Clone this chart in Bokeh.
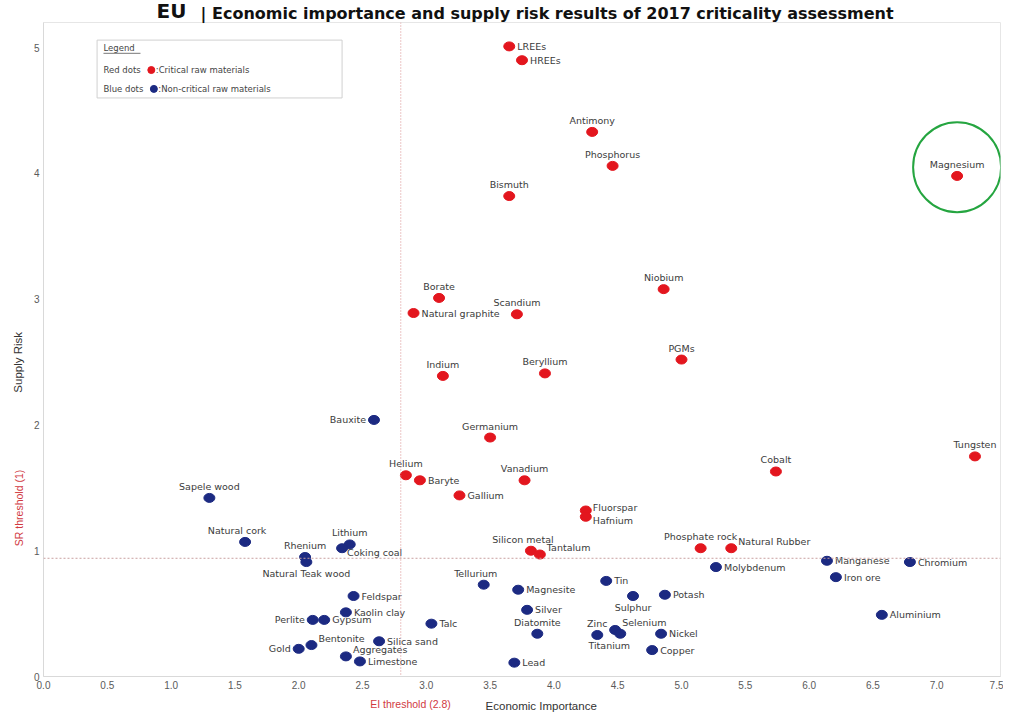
import math
from bokeh.plotting import figure
from bokeh.models import (Range1d, Span, Label, FixedTicker, CustomJSTickFormatter,
                          ColumnDataSource, LinearAxis)
from bokeh.core.properties import value
from bokeh.embed import file_html
from bokeh.resources import INLINE

# ---------------- data ----------------
red_names = ["LREEs", "HREEs", "Antimony", "Phosphorus", "Bismuth", "Magnesium", "Niobium",
             "Borate", "Natural graphite", "Scandium", "PGMs", "Indium", "Beryllium",
             "Germanium", "Helium", "Baryte", "Gallium", "Vanadium", "Fluorspar", "Hafnium",
             "Cobalt", "Tungsten", "Silicon metal", "Tantalum", "Phosphate rock", "Natural Rubber"]
red_ei = [3.65, 3.75, 4.30, 4.46, 3.65, 7.16, 4.86,
          3.10, 2.90, 3.71, 5.00, 3.13, 3.93,
          3.50, 2.84, 2.95, 3.26, 3.77, 4.25, 4.25,
          5.74, 7.30, 3.82, 3.89, 5.15, 5.39]
red_sr = [5.01, 4.90, 4.33, 4.06, 3.82, 3.98, 3.08,
          3.01, 2.89, 2.88, 2.52, 2.39, 2.41,
          1.90, 1.60, 1.56, 1.44, 1.56, 1.32, 1.27,
          1.63, 1.75, 1.00, 0.97, 1.02, 1.02]
red_pos = ["r", "r", "t", "t", "t", "t", "t",
           "t", "r", "t", "t", "t", "t",
           "t", "t", "r", "r", "t", "rup", "rdn",
           "t", "t", "tl", "ru", "t", "ru"]

blue_names = ["Bauxite", "Sapele wood", "Natural cork", "Rhenium", "Natural Teak wood", "Lithium",
              "Coking coal", "Tellurium", "Magnesite", "Tin", "Sulphur", "Potash", "Molybdenum",
              "Manganese", "Chromium", "Iron ore", "Aluminium", "Feldspar", "Kaolin clay",
              "Perlite", "Gypsum", "Talc", "Silver", "Diatomite", "Zinc", "Selenium", "Titanium",
              "Nickel", "Copper", "Lead", "Silica sand", "Bentonite", "Gold", "Aggregates", "Limestone"]
blue_ei = [2.59, 1.30, 1.58, 2.05, 2.06, 2.40,
           2.34, 3.45, 3.72, 4.41, 4.62, 4.87, 5.27,
           6.14, 6.79, 6.21, 6.57, 2.43, 2.37,
           2.11, 2.20, 3.04, 3.79, 3.87, 4.34, 4.48, 4.52,
           4.84, 4.77, 3.69, 2.63, 2.10, 2.00, 2.37, 2.48]
blue_sr = [2.04, 1.42, 1.07, 0.95, 0.91, 1.05,
           1.02, 0.73, 0.69, 0.76, 0.64, 0.65, 0.87,
           0.92, 0.91, 0.79, 0.49, 0.64, 0.51,
           0.45, 0.45, 0.42, 0.53, 0.34, 0.33, 0.37, 0.34,
           0.34, 0.21, 0.11, 0.28, 0.25, 0.22, 0.16, 0.12]
blue_pos = ["l", "t", "tl", "t", "b", "t",
            "rd", "tl", "r", "r", "b", "r", "r",
            "r", "r", "r", "r", "r", "r",
            "l", "r", "r", "r", "t", "t", "ru", "bl",
            "r", "r", "r", "r", "ru", "l", "ru", "r"]

x_ticks = [0.0, 0.5, 1.0, 1.5, 2.0, 2.5, 3.0, 3.5, 4.0, 4.5, 5.0, 5.5, 6.0, 6.5, 7.0, 7.5]
y_ticks = [0, 1, 2, 3, 4, 5]
EI_THRESHOLD = 2.8
SR_LINE = 0.94   # where the SR threshold (1) line is drawn in the picture
highlight = "Magnesium"

# ---------------- styles ----------------
RED = "#e3161e"
BLUE = "#1c2a82"
LABEL_COL = "#3b3b3b"
LFONT = value("DejaVu Sans")
NARROW = "'Liberation Sans Narrow', 'Liberation Sans', sans-serif"
NBSP = "\u00a0"

PLACE = {
    "r":   ("left", "middle", 8, 0),
    "ru":  ("left", "middle", 7, -7),
    "rup": ("left", "middle", 7, -3),
    "rdn": ("left", "middle", 7, 4),
    "rd":  ("left", "middle", 5, 4),
    "l":   ("right", "middle", -8, 0),
    "t":   ("center", "bottom", 0, -6),
    "tl":  ("center", "bottom", -8, -6),
    "b":   ("center", "top", 0, 6),
    "bl":  ("center", "top", -11, 6),
}

p = figure(width=1003, height=714, output_backend="svg", toolbar_location=None,
           x_range=Range1d(0, 7.5), y_range=Range1d(0, 5.2),
           min_border_left=43, min_border_right=3, min_border_top=22, min_border_bottom=37)
p.grid.visible = False
p.outline_line_color = "#e6e6e6"
p.background_fill_color = "white"
p.border_fill_color = "white"

def style_axis(ax, size="10px", color="#5a5a5a", standoff=4):
    ax.axis_line_color = None
    ax.major_tick_line_color = None
    ax.minor_tick_line_color = None
    ax.major_tick_out = 0
    ax.major_tick_in = 0
    ax.minor_tick_out = 0
    ax.major_label_text_font = NARROW
    ax.major_label_text_font_size = size
    ax.major_label_text_color = color
    ax.major_label_standoff = standoff

style_axis(p.xaxis[0])
style_axis(p.yaxis[0])
p.xaxis[0].axis_line_color = "#d9d9d9"
p.yaxis[0].axis_line_color = "#d9d9d9"
p.xaxis.ticker = FixedTicker(ticks=x_ticks)
p.xaxis.formatter = CustomJSTickFormatter(code="return tick.toFixed(1);")
p.yaxis.ticker = FixedTicker(ticks=y_ticks)

# second bottom axis: EI threshold label + axis title on the same row
ei_axis = LinearAxis(ticker=FixedTicker(ticks=[EI_THRESHOLD + 0.076]),
                     formatter=CustomJSTickFormatter(code="return 'EI threshold (2.8)';"))
style_axis(ei_axis, size="10.5px", color="#d13a3f", standoff=6)
ei_axis.axis_label = NBSP * 12 + "Economic Importance"
ei_axis.axis_label_text_font = NARROW
ei_axis.axis_label_text_font_size = "11.5px"
ei_axis.axis_label_text_font_style = "normal"
ei_axis.axis_label_text_color = "#333"
ei_axis.axis_label_standoff = -13
p.add_layout(ei_axis, "below")

# second left axis: SR threshold label + axis title in the same column
sr_axis = LinearAxis(ticker=FixedTicker(ticks=[1.34]),
                     formatter=CustomJSTickFormatter(code="return 'SR threshold (1)';"))
style_axis(sr_axis, size="10.5px", color="#d13a3f", standoff=5)
sr_axis.major_label_orientation = "parallel"
sr_axis.axis_label = "Supply Risk" + NBSP * 8
sr_axis.axis_label_text_font = NARROW
sr_axis.axis_label_text_font_size = "11.5px"
sr_axis.axis_label_text_font_style = "normal"
sr_axis.axis_label_text_color = "#333"
sr_axis.axis_label_standoff = -13
p.add_layout(sr_axis, "left")

# top axis used as title: "EU" + rest of title
t_axis = LinearAxis(ticker=FixedTicker(ticks=[1.003]),
                    formatter=CustomJSTickFormatter(code="return 'EU';"))
style_axis(t_axis, size="20px", color="#111", standoff=0)
t_axis.major_label_text_font = "DejaVu Sans"
t_axis.major_label_text_font_style = "bold"
t_axis.axis_label = NBSP * 10 + "|  Economic importance and supply risk results of 2017 criticality assessment"
t_axis.axis_label_text_font = "DejaVu Sans"
t_axis.axis_label_text_font_style = "bold"
t_axis.axis_label_text_font_size = "16px"
t_axis.axis_label_text_color = "#111"
t_axis.axis_label_standoff = -27
p.add_layout(t_axis, "above")

# threshold lines
p.add_layout(Span(location=EI_THRESHOLD, dimension="height", line_color="#d98c8c",
                  line_dash="1 2", line_width=1))
p.add_layout(Span(location=SR_LINE, dimension="width", line_color="#c9a0a0",
                  line_dash="2 2", line_width=1))

# legend box (drawn first so the dots sit on top)
p.quad(left=[0.42], right=[2.34], bottom=[4.60], top=[5.06],
       fill_color="white", line_color="#d0d0d0", line_width=1)

# points
def draw(names, xs, ys, pos, color):
    p.ellipse(x=xs, y=ys, width=11, height=9, width_units="screen", height_units="screen",
              fill_color=color, line_color=color)
    for key, (align, base, xo, yo) in PLACE.items():
        idx = [i for i, k in enumerate(pos) if k == key]
        if not idx:
            continue
        src = ColumnDataSource(dict(x=[xs[i] for i in idx], y=[ys[i] for i in idx],
                                    t=[names[i] for i in idx]))
        p.text(x="x", y="y", text="t", source=src, x_offset=xo, y_offset=yo,
               text_align=align, text_baseline=base, text_font=LFONT,
               text_font_size="9.5px", text_color=LABEL_COL)

draw(blue_names, blue_ei, blue_sr, blue_pos, BLUE)
draw(red_names, red_ei, red_sr, red_pos, RED)

# highlight circle around Magnesium
hi = red_names.index(highlight)
p.ellipse(x=[red_ei[hi]], y=[red_sr[hi] + 0.07], width=88, height=90,
          width_units="screen", height_units="screen",
          fill_color=None, line_color="#25a540", line_width=2)

# legend contents
def ltext(x, y, t):
    p.add_layout(Label(x=x, y=y, text=t, text_font="DejaVu Sans", text_font_size="8.5px",
                       text_color="#444", text_baseline="middle"))

ltext(0.47, 5.00, "Legend")
p.line(x=[0.47, 0.76], y=[4.955, 4.955], line_color="#555", line_width=0.8)
ltext(0.47, 4.82, "Red dots")
p.ellipse(x=[0.845], y=[4.822], width=7, height=7, width_units="screen", height_units="screen",
          fill_color=RED, line_color=RED)
ltext(0.88, 4.82, ":Critical raw materials")
ltext(0.47, 4.67, "Blue dots")
p.ellipse(x=[0.865], y=[4.672], width=7, height=7, width_units="screen", height_units="screen",
          fill_color=BLUE, line_color=BLUE)
ltext(0.90, 4.67, ":Non-critical raw materials")

open("out.html", "w").write(file_html(p, INLINE))
